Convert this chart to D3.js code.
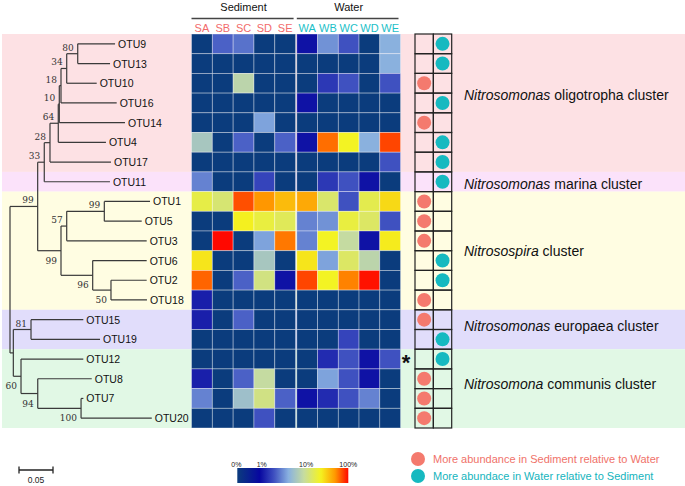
<!DOCTYPE html>
<html><head><meta charset="utf-8">
<script src="https://cdn.jsdelivr.net/npm/d3@7/dist/d3.min.js"></script>
<style>body{margin:0;background:#fff}svg{display:block}</style>
</head><body><svg id="c" width="685" height="486"></svg>
<script>
// ---------------- DATA ----------------
const treeNewick = "(((((((((OTU9:0.0549,OTU13:0.0475)80:0.0162,OTU10:0.0441)34:0.0084,OTU16:0.0819)18:0.0025,OTU14:0.0966)10:0.0015,OTU4:0.0701)64:0.0122,OTU17:0.0897)28:0.0084,OTU11:0.0966)33:0.0097,(((OTU1:0.0672,OTU5:0.0550)99:0.0553,OTU3:0.1176)57:0.0084,(OTU6:0.0794,(OTU2:0.0525,OTU18:0.0529)50:0.0269)96:0.0466)99:0.0343)99:0.0407,((OTU15:0.0769,OTU19:0.1015)81:0.0260,(OTU12:0.0916,(OTU8:0.0794,(OTU7:0.0034,OTU20:0.1040)100:0.0637)94:0.0246)60:0.0113):0.0049);";
const otuOrder = ["OTU9","OTU13","OTU10","OTU16","OTU14","OTU4","OTU17","OTU11","OTU1","OTU5","OTU3","OTU6","OTU2","OTU18","OTU15","OTU19","OTU12","OTU8","OTU7","OTU20"];
const sedimentCols = ["SA","SB","SC","SD","SE"];
const waterCols = ["WA","WB","WC","WD","WE"];
// relative abundance (%) per OTU row, columns SA..SE, WA..WE
const abundance = [
  [0,4,4.5,0,0, 1,5.5,3.5,0,6.5],
  [0,0,0,0,0, 0,0,0,0,6.5],
  [0,0,9,0,0, 0,2.5,3.5,0,3.5],
  [0,0,0,0,0, 1,0,0,0,0],
  [0,0,0,6,0, 0,0,0,0,0],
  [8,0,4,0,4, 1,80,40,6.5,88],
  [0,0,0,0,0, 0,0,0,0,3.5],
  [5,0,0,3,0, 0,2.5,3.5,1,0],
  [30,18,86,72,60, 66,20,3.5,28,50],
  [0,0,42,32,25, 5,5.5,32,22,3.5],
  [0,100,0,6,78, 5,40,9.5,1,44],
  [46,0,0,8,0, 46,6,22,9,0],
  [82,0,4,14,1, 88,40,76,98,0],
  [1.5,0,0,0,0, 0,0,0,0,0],
  [1.5,0,4,0,0, 0,0,0,0,0],
  [0,0,0,0,0, 0,0,3,0,0],
  [0,0,0,0,0, 0,2,3.5,1,3.5],
  [1.5,0,4,9.5,0, 0,6,3.5,1,0],
  [5,0,7.5,13,4, 1,2,3.5,5,0],
  [0,0,0,3.5,0, 0,0,0,0,0]
];
// S = more abundant in Sediment, W = more abundant in Water
const enriched = ["W","W","S","W","S","W","W","W","S","S","S","W","W","S","S","W","W","S","S","S"];
const starred = ["OTU12"];
const clusterGenus = ["Nitrosomonas","Nitrosomonas","Nitrosospira","Nitrosomonas","Nitrosomona"];
const clusterRest = [" oligotropha cluster"," marina cluster"," cluster"," europaea cluster"," communis cluster"];
const clusterFirst = ["OTU9","OTU11","OTU1","OTU15","OTU12"];
const clusterLast = ["OTU17","OTU11","OTU18","OTU19","OTU20"];
const colorbarTicks = [0,1,10,100];
const colorbarLabels = ["0%","1%","10%","100%"];
const legendLabels = ["More abundance in Sediment relative to Water","More abundace in Water relative to Sediment"];
const scaleBarValue = 0.05;

// ---------------- STYLE ----------------
const bandColors = ["#fde1e4","#fbe2fa","#fffde2","#e1ddfb","#e1f8e5"];
const clusterLabelDy = [-8, 2, 0, -4, -5];
const salmon = "#f47a6e", teal = "#16b9c0";
const bootBelow = ["OTU1-OTU18","OTU6-OTU18","OTU2-OTU18","OTU12-OTU20","OTU8-OTU20","OTU7-OTU20"];

const svg = d3.select("#c");
const y = d3.scaleBand().domain(otuOrder).range([34, 428]);
const bw = y.bandwidth();
const xSed = d3.scaleBand().domain(sedimentCols).range([191.5, 295.6]);
const xWat = d3.scaleBand().domain(waterCols).range([296.8, 400.5]);
const colX = c => sedimentCols.includes(c) ? xSed(c) : xWat(c);
const cw = xSed.bandwidth();
const allCols = sedimentCols.concat(waterCols);

const pos = d3.scaleLinear().domain([0,1,10,100]).range([0,0.22,0.62,1]).clamp(true);
const col = d3.scaleLinear()
  .domain([0,0.2,0.33,0.46,0.6,0.75,0.88,1])
  .range(["#0b3c7d","#0707a0","#3e50c0","#88b0e0","#c6dca0","#f4f420","#ff9900","#ff0800"]);
const colorOf = v => col(pos(v));

// bands
clusterFirst.forEach((f,i)=>{
  const y0 = y(f), y1 = y(clusterLast[i]) + bw;
  svg.append("rect").attr("x",2).attr("y",y0).attr("width",683).attr("height",y1-y0).attr("fill",bandColors[i]);
  const t = svg.append("text").attr("x",464).attr("y",(y0+y1)/2 + 5 + clusterLabelDy[i])
    .attr("font-family","Liberation Sans, Arial, sans-serif").attr("font-size",14).attr("fill","#111");
  t.append("tspan").attr("font-style","italic").text(clusterGenus[i]);
  t.append("tspan").text(clusterRest[i]);
});

// heatmap
abundance.forEach((row,r)=>{
  row.forEach((v,c)=>{
    svg.append("rect").attr("x",colX(allCols[c])).attr("y",y(otuOrder[r]))
      .attr("width",cw).attr("height",bw).attr("fill",colorOf(v))
      .attr("stroke","rgba(255,255,255,0.45)").attr("stroke-width",0.8);
  });
});
// headers
const hdrFont = "Liberation Sans, Arial, sans-serif";
[["Sediment",xSed],["Water",xWat]].forEach(([lab,sc])=>{
  const [a,b] = sc.range();
  svg.append("text").attr("x",(a+b)/2).attr("y",11).attr("text-anchor","middle")
    .attr("font-family",hdrFont).attr("font-size",11).attr("fill","#111").text(lab);
  svg.append("line").attr("x1",a).attr("x2",b-2).attr("y1",18.5).attr("y2",18.5).attr("stroke","#444").attr("stroke-width",1.4);
});
allCols.forEach(c=>{
  svg.append("text").attr("x",colX(c)+cw/2).attr("y",31.5).attr("text-anchor","middle")
    .attr("font-family",hdrFont).attr("font-size",11)
    .attr("fill",sedimentCols.includes(c)?"#f26b6b":"#1cbfc8").text(c);
});

// tree
function parseNewick(s){
  let i=0;
  function node(){
    const n={children:[]};
    if(s[i]==="("){ i++; n.children.push(node()); while(s[i]===","){i++; n.children.push(node());} i++; }
    let name=""; while(i<s.length && !",():;".includes(s[i])) name+=s[i++];
    n.name=name; n.length=0;
    if(s[i]===":"){ i++; let l=""; while(i<s.length && !",();".includes(s[i])) l+=s[i++]; n.length=+l; }
    return n;
  }
  return node();
}
const root = d3.hierarchy(parseNewick(treeNewick), d=>d.children.length?d.children:null);
root.eachBefore(d=>{ d.len = (d.parent?d.parent.len:0) + d.data.length; });
root.eachAfter(d=>{
  if(d.children){ d.yy = (d.children[0].yy + d.children[d.children.length-1].yy)/2; }
  else d.yy = y(d.data.name) + bw/2;
});
const xt = d3.scaleLinear().domain([0,scaleBarValue]).range([10,44]);
const tg = svg.append("g").attr("stroke","#3a3a3a").attr("stroke-width",1.2).attr("fill","none");
root.each(d=>{
  if(d.parent){
    tg.append("line").attr("x1",xt(d.parent.len)).attr("x2",xt(d.len)).attr("y1",d.yy).attr("y2",d.yy);
  }
  if(d.children){
    tg.append("line").attr("x1",xt(d.len)).attr("x2",xt(d.len))
      .attr("y1",d.children[0].yy).attr("y2",d.children[d.children.length-1].yy);
  }
});
root.leaves().forEach(d=>{
  svg.append("text").attr("x",xt(d.len)+3).attr("y",d.yy+4)
    .attr("font-family",hdrFont).attr("font-size",10.5).attr("fill","#111").text(d.data.name);
});
root.descendants().filter(d=>d.children && d.data.name).forEach(d=>{
  const lv = d.leaves();
  const key = lv[0].data.name+"-"+lv[lv.length-1].data.name;
  const below = bootBelow.includes(key);
  svg.append("text").attr("x",xt(d.len)-4).attr("y",below? d.yy+13 : d.yy-3)
    .attr("text-anchor","end").attr("font-family","DejaVu Serif, serif").attr("font-size",9)
    .attr("fill","#333").text(d.data.name);
});

// enrichment grid
const gx = d3.scaleBand().domain(["S","W"]).range([415,451.7]);
otuOrder.forEach((o,r)=>{
  ["S","W"].forEach(k=>{
    svg.append("rect").attr("x",gx(k)).attr("y",y(o)).attr("width",gx.bandwidth()).attr("height",bw)
      .attr("fill","none").attr("stroke","#222").attr("stroke-width",1.2);
  });
  svg.append("circle").attr("cx",gx(enriched[r])+gx.bandwidth()/2).attr("cy",y(o)+bw/2).attr("r",7)
    .attr("fill",enriched[r]==="S"?salmon:teal);
});
starred.forEach(o=>{
  svg.append("text").attr("x",406).attr("y",y(o)+bw/2+11).attr("text-anchor","middle")
    .attr("font-family",hdrFont).attr("font-weight","bold").attr("font-size",22).attr("fill","#111").text("*");
});

// colorbar
const cb = d3.scaleLinear().domain([0,1]).range([237.3,348.3]);
const defs = svg.append("defs");
const grad = defs.append("linearGradient").attr("id","cbg");
d3.range(0,1.0001,0.02).forEach(p=>grad.append("stop").attr("offset",p).attr("stop-color",col(p)));
svg.append("rect").attr("x",cb(0)).attr("y",468).attr("width",cb(1)-cb(0)).attr("height",15).attr("fill","url(#cbg)");
colorbarTicks.forEach((t,i)=>{
  svg.append("text").attr("x",cb(pos(t)) - (i===0?1:0)).attr("y",466.5).attr("text-anchor","middle")
    .attr("font-family",hdrFont).attr("font-size",7).attr("fill","#222").text(colorbarLabels[i]);
});

// legend
legendLabels.forEach((l,i)=>{
  const yy = 459 + i*17;
  svg.append("circle").attr("cx",418).attr("cy",yy).attr("r",7).attr("fill",i===0?salmon:teal);
  svg.append("text").attr("x",433).attr("y",yy+4).attr("font-family",hdrFont).attr("font-size",11)
    .attr("fill",i===0?"#f0726a":"#14b4bd").text(l);
});

// scale bar
const sbW = xt(scaleBarValue)-xt(0);
const sb = svg.append("g").attr("stroke","#222").attr("stroke-width",1.3);
sb.append("line").attr("x1",19).attr("x2",19+sbW).attr("y1",470).attr("y2",470);
sb.append("line").attr("x1",19).attr("x2",19).attr("y1",466.5).attr("y2",473.5);
sb.append("line").attr("x1",19+sbW).attr("x2",19+sbW).attr("y1",466.5).attr("y2",473.5);
svg.append("text").attr("x",19+sbW/2).attr("y",483).attr("text-anchor","middle")
  .attr("font-family",hdrFont).attr("font-size",8.5).attr("fill","#222").text(scaleBarValue.toFixed(2));
</script></body></html>
